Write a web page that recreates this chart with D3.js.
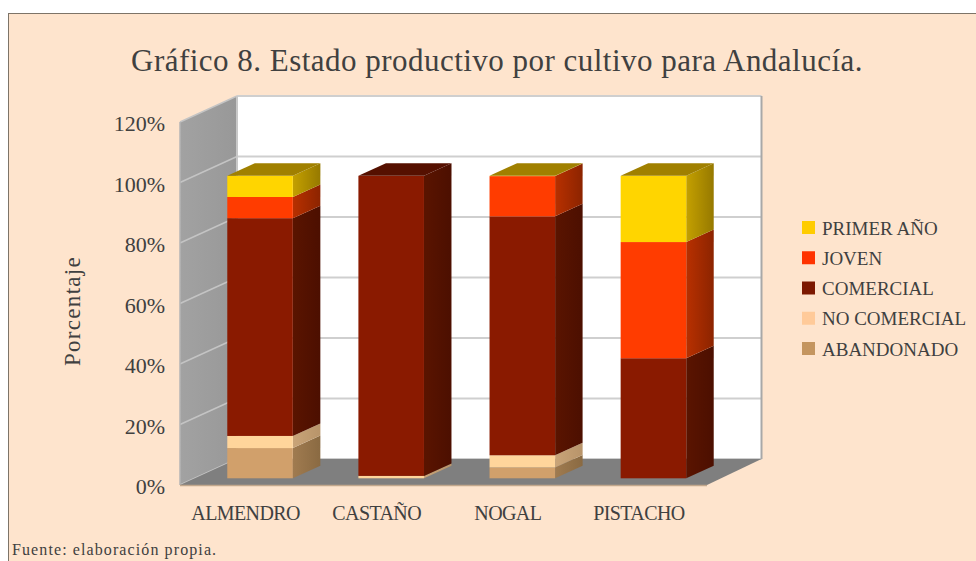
<!DOCTYPE html>
<meta charset="utf-8">
<style>
html, body { margin: 0; padding: 0; background: #fff; }
svg { display: block; }
text { font-family: "Liberation Serif", serif; fill: #404040; }
.tick text { fill: #404040; }
.bar { filter: blur(0.5px); }
</style>
<svg width="976" height="561"></svg>
<script src="https://d3js.org/d3.v7.min.js"></script>
<script>
var titleText = "Gráfico 8. Estado productivo por cultivo para Andalucía.";
var sourceText = "Fuente: elaboración propia.";
var axisTitle = "Porcentaje";

var cultivos = ["ALMENDRO", "CASTAÑO", "NOGAL", "PISTACHO"];
var series = ["ABANDONADO", "NO COMERCIAL", "COMERCIAL", "JOVEN", "PRIMER AÑO"];
var abandonado = [10, 0, 3.6, 0];
var noComercial = [4, 0.8, 4, 0];
var comercial = [72, 99.2, 79, 39.7];
var joven = [7, 0, 13.3, 38.4];
var primerAno = [7, 0, 0.1, 21.9];
var yTicks = [0, 20, 40, 60, 80, 100, 120];

var frontCol = ["#d1a06b", "#ffd59b", "#8a1a00", "#ff3c00", "#ffd500"];
var sideCol = [["#a07b50", "#8a6a42"], ["#c9a478", "#b8946a"], ["#5a1400", "#4c0f00"], ["#b83000", "#8c2400"], ["#c4a000", "#967900"]];
var topCol = ["#a07b50", "#c9a478", "#551000", "#a02800", "#a08000"];
var legendCol = ["#c4955f", "#ffca99", "#7c1800", "#ff3300", "#ffcc00"];

var values = [abandonado, noComercial, comercial, joven, primerAno];

var svg = d3.select("svg");
var defs = svg.append("defs");

// panel
svg.append("rect").attr("x", 8.5).attr("y", 13.5).attr("width", 980).attr("height", 560)
  .attr("fill", "#fee4cd").attr("stroke", "#7d7468");

svg.append("text").attr("x", 497).attr("y", 71).attr("text-anchor", "middle")
  .style("font-size", "31px").style("letter-spacing", "0.48px").text(titleText);
svg.append("text").attr("x", 12).attr("y", 555)
  .style("font-size", "16px").style("letter-spacing", "1.1px").text(sourceText);
svg.append("text").attr("transform", "translate(80,311) rotate(-90)").attr("text-anchor", "middle")
  .style("font-size", "23px").style("letter-spacing", "1.3px").text(axisTitle);

// front plane of the 3d box, the back is shifted by depth
var left = 180, right = 707, backRight = 761.5;
var depthX = 57, depthY = -26;
var x = d3.scaleBand().domain(cultivos).range([left, 704.5]).paddingInner(0.5).paddingOuter(0.25);
var y = d3.scaleLinear().domain([0, 120]).range([485, 122]);

function poly(pts) { return pts.map(function(p) { return p.join(","); }).join(" "); }

var gradSide = defs.append("linearGradient").attr("id", "wallGrad");
gradSide.append("stop").attr("offset", "0").attr("stop-color", "#a2a2a2");
gradSide.append("stop").attr("offset", "1").attr("stop-color", "#989898");

// walls and floor
svg.append("rect").attr("x", left + depthX).attr("y", y(120) + depthY)
  .attr("width", backRight - left - depthX).attr("height", y(0) - y(120))
  .attr("fill", "#fff");
svg.append("polygon").attr("fill", "url(#wallGrad)")
  .attr("points", poly([[left, y(0)], [left, y(120)], [left + depthX, y(120) + depthY], [left + depthX, y(0) + depthY]]));

yTicks.forEach(function(t) {
  svg.append("line").attr("x1", left + depthX).attr("x2", backRight)
    .attr("y1", y(t) + depthY).attr("y2", y(t) + depthY)
    .attr("stroke", "#cfcfcf").attr("stroke-width", 2);
  svg.append("line").attr("x1", left).attr("x2", left + depthX)
    .attr("y1", y(t)).attr("y2", y(t) + depthY)
    .attr("stroke", "#c4c4c4").attr("stroke-width", 1.5);
});
svg.append("line").attr("x1", left + depthX).attr("x2", left + depthX)
  .attr("y1", y(120) + depthY).attr("y2", y(0) + depthY).attr("stroke", "#c8c8c8").attr("stroke-width", 2);
svg.append("line").attr("x1", backRight).attr("x2", backRight)
  .attr("y1", y(120) + depthY).attr("y2", y(0) + depthY).attr("stroke", "#a8a8a8").attr("stroke-width", 2);
svg.append("line").attr("x1", left).attr("x2", left)
  .attr("y1", y(120)).attr("y2", y(0)).attr("stroke", "#b4b4b4").attr("stroke-width", 1.5);

svg.append("polygon").attr("fill", "#7f7f7f")
  .attr("points", poly([[left, y(0)], [right, y(0)], [backRight, y(0) + depthY], [left + depthX, y(0) + depthY]]));
svg.append("line").attr("x1", left).attr("x2", right).attr("y1", y(0) + 0.5).attr("y2", y(0) + 0.5)
  .attr("stroke", "#c2a78c").attr("stroke-width", 1.5);

// bars stand a bit inside the floor
var barDx = 14.5, barDy = -6.7, barDepthX = 27.5, barDepthY = -12.5;

series.forEach(function(s, i) {
  var g = defs.append("linearGradient").attr("id", "side" + i);
  g.append("stop").attr("offset", "0").attr("stop-color", sideCol[i][0]);
  g.append("stop").attr("offset", "1").attr("stop-color", sideCol[i][1]);
});

cultivos.forEach(function(c, ci) {
  var x0 = x(c) + barDx, x1 = x0 + x.bandwidth();
  var base = 0, topIdx = 0;
  var group = svg.append("g").attr("class", "bar");
  series.forEach(function(s, si) {
    var v = values[si][ci];
    if (!v) return;
    var yb = y(base) + barDy, yt = y(base + v) + barDy;
    group.append("polygon").attr("fill", "url(#side" + si + ")")
      .attr("points", poly([[x1, yb], [x1 + barDepthX, yb + barDepthY], [x1 + barDepthX, yt + barDepthY], [x1, yt]]));
    group.append("rect").attr("x", x0).attr("y", yt).attr("width", x1 - x0).attr("height", yb - yt)
      .attr("fill", frontCol[si]);
    base += v;
    topIdx = si;
  });
  var yTop = y(base) + barDy;
  group.append("polygon").attr("fill", topCol[topIdx])
    .attr("points", poly([[x0, yTop], [x1, yTop], [x1 + barDepthX, yTop + barDepthY], [x0 + barDepthX, yTop + barDepthY]]));
});

// axes
var yAxis = svg.append("g").attr("transform", "translate(165,1.5)")
  .call(d3.axisLeft(y).tickValues(yTicks).tickSize(0).tickPadding(0).tickFormat(function(d) { return d + "%"; }));
yAxis.select(".domain").remove();
yAxis.selectAll("text").style("font-size", "22px").style("font-family", '"Liberation Serif", serif');

var xAxis = svg.append("g").attr("transform", "translate(0,506)")
  .call(d3.axisBottom(x).tickSize(0).tickPadding(0));
xAxis.select(".domain").remove();
xAxis.selectAll("text").style("font-size", "20px").style("letter-spacing", "-0.6px").style("font-family", '"Liberation Serif", serif');

// legend, top entry is the last series
var legendY = d3.scalePoint().domain(series.slice().reverse()).range([228, 349]);
series.forEach(function(s, i) {
  svg.append("rect").attr("x", 802).attr("y", legendY(s) - 7).attr("width", 13).attr("height", 13)
    .attr("fill", legendCol[i]);
  svg.append("text").attr("x", 822).attr("y", legendY(s)).attr("dy", "0.35em")
    .style("font-size", "19px").text(s);
});
</script>
